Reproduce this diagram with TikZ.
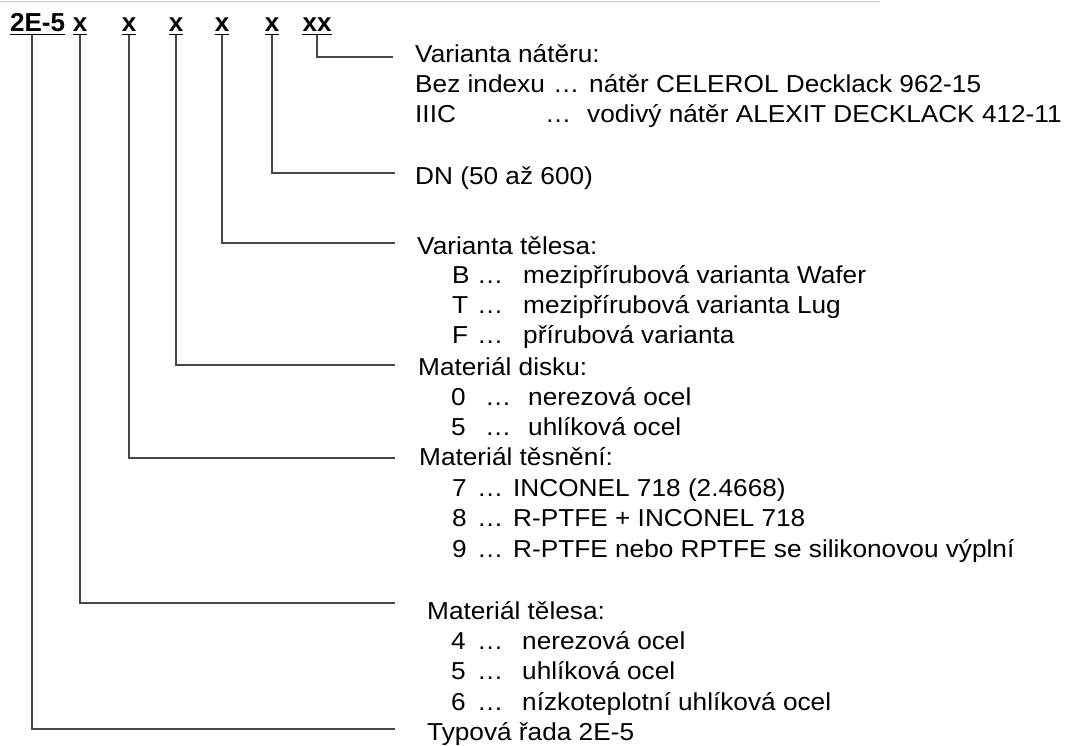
\documentclass[tikz,border=0pt]{standalone}
\usepackage{fontspec}
\setmainfont{Liberation Sans}[FakeStretch=1.07]
\newfontfamily\codefont{Liberation Sans}
\begin{document}
\begin{tikzpicture}[x=1pt,y=-1pt,
  lbl/.style={anchor=base west,inner sep=0pt,font=\fontsize{24.5}{29}\selectfont},
  code/.style={anchor=base,inner sep=0pt,font=\codefont\fontsize{26}{30}\selectfont\bfseries},
  ul/.style={draw=black,line width=1.6pt},
  conn/.style={draw=black!72,line width=1.3pt}]
\useasboundingbox (0,0) rectangle (1067,745);
\draw[black!22,line width=0.8pt] (0,1) -- (880,1);

% code row
\node[code,anchor=base west] (s) at (10,31) {2E-5};
\node[code] (c1) at (80,31) {x};
\node[code] (c2) at (129,31) {x};
\node[code] (c3) at (176,31) {x};
\node[code] (c4) at (222,31) {x};
\node[code] (c5) at (272,31) {x};
\node[code] (c6) at (317,31) {xx};
\foreach \n in {s,c1,c2,c3,c4,c5,c6}
  \draw[ul] ([yshift=-3.5pt]\n.base west) -- ([yshift=-3.5pt]\n.base east);

% line ends
\coordinate (e6) at (393,57);
\coordinate (e5) at (395,173);
\coordinate (e4) at (395,243);
\coordinate (e3) at (395,365);
\coordinate (e2) at (395,458);
\coordinate (e1) at (395,603);
\coordinate (e0) at (395,729);

\draw[conn] ([yshift=-3.5pt]c6.base) |- (e6);
\draw[conn] ([yshift=-3.5pt]c5.base) |- (e5);
\draw[conn] ([yshift=-3.5pt]c4.base) |- (e4);
\draw[conn] ([yshift=-3.5pt]c3.base) |- (e3);
\draw[conn] ([yshift=-3.5pt]c2.base) |- (e2);
\draw[conn] ([yshift=-3.5pt]c1.base) |- (e1);
\draw[conn] ([xshift=22pt,yshift=-3.5pt]s.base west) |- (e0);

% Varianta nateru
\node[lbl] (t6) at (415,62.5) {Varianta nátěru:};
\node[lbl] (t6a) at (415,92.5) {Bez indexu};
\node[lbl] (t6ad) at (553,92.5) {…};
\node[lbl] (t6at) at (589,92.5) {nátěr CELEROL Decklack 962-15};
\node[lbl] (t6b) at (415,122.5) {IIIC};
\node[lbl] (t6bd) at (545,122.5) {…};
\node[lbl] (t6bt) at (587,122.5) {vodivý nátěr ALEXIT DECKLACK 412-11};

% DN
\node[lbl] (t5) at (415,184.5) {DN (50 až 600)};

% Varianta telesa
\node[lbl] (t4) at (417,254) {Varianta tělesa:};
\foreach \k/\t/\yy in {B/mezipřírubová varianta Wafer/283.5,T/mezipřírubová varianta Lug/313.5,F/přírubová varianta/343.5}{
  \node[lbl] (t4k\k) at (452,\yy) {\k};
  \node[lbl] (t4d\k) at (477,\yy) {…};
  \node[lbl] (t4t\k) at (523,\yy) {\t};
}

% Material disku
\node[lbl] (t3) at (418,375) {Materiál disku:};
\foreach \k/\t/\yy in {0/nerezová ocel/405.5,5/uhlíková ocel/435.5}{
  \node[lbl] (t3k\k) at (451,\yy) {\k};
  \node[lbl] (t3d\k) at (485,\yy) {…};
  \node[lbl] (t3t\k) at (528,\yy) {\t};
}

% Material tesneni
\node[lbl] (t2) at (419,465.5) {Materiál těsnění:};
\foreach \k/\t/\yy in {7/INCONEL 718 (2.4668)/496,8/R-PTFE + INCONEL 718/526.5,9/R-PTFE nebo RPTFE se silikonovou výplní/557}{
  \node[lbl] (t2k\k) at (452,\yy) {\k};
  \node[lbl] (t2d\k) at (477,\yy) {…};
  \node[lbl] (t2t\k) at (513,\yy) {\t};
}

% Material telesa
\node[lbl] (t1) at (427,619) {Materiál tělesa:};
\foreach \k/\t/\yy in {4/nerezová ocel/649,5/uhlíková ocel/679.5,6/nízkoteplotní uhlíková ocel/710}{
  \node[lbl] (t1k\k) at (451,\yy) {\k};
  \node[lbl] (t1d\k) at (477,\yy) {…};
  \node[lbl] (t1t\k) at (522,\yy) {\t};
}

% Typova rada
\node[lbl] (t0) at (427,740.5) {Typová řada 2E-5};
\end{tikzpicture}
\end{document}
